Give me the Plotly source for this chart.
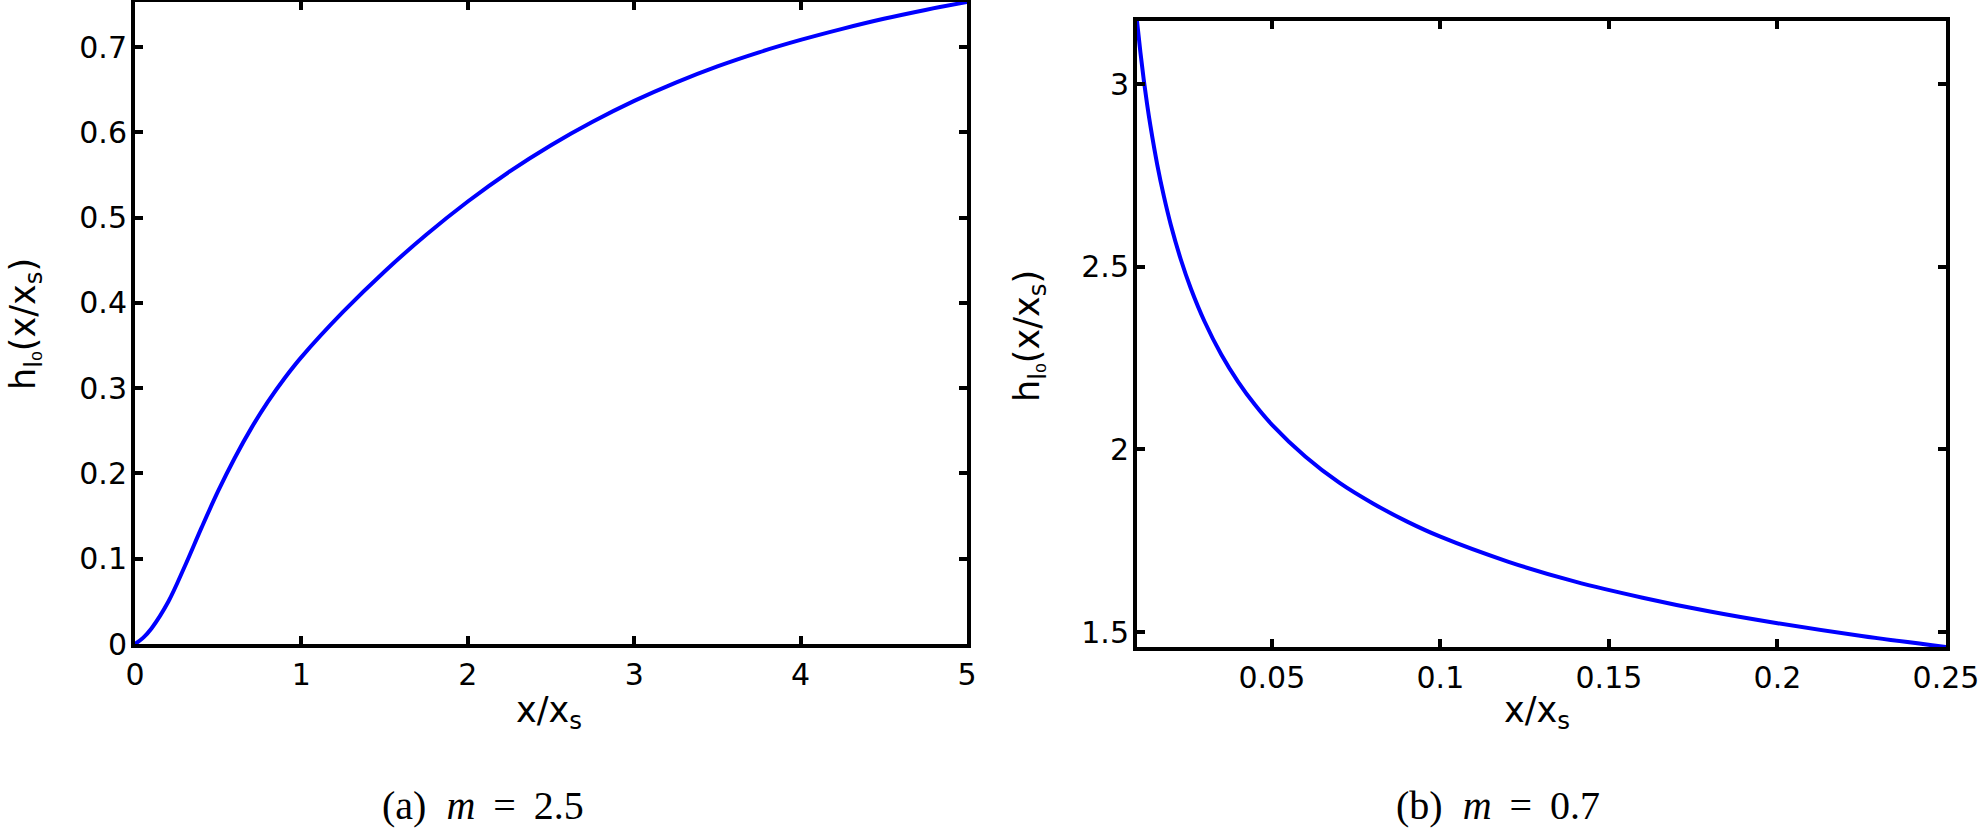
import plotly.graph_objects as go

# ---- data ----
# panel (a): m = 2.5
xa = [0, 0.05, 0.1, 0.2, 0.3, 0.4, 0.5, 0.6, 0.7, 0.8, 0.9, 1.0, 1.25, 1.5, 1.75,
      2.0, 2.25, 2.5, 2.75, 3.0, 3.25, 3.5, 3.75, 4.0, 4.25, 4.5, 4.75, 5.0]
ya = [0, 0.0075, 0.0185, 0.0495, 0.0915, 0.1365, 0.1795, 0.2185, 0.2535, 0.2845,
      0.312, 0.3365, 0.3895, 0.437, 0.480, 0.519, 0.554, 0.585, 0.6125, 0.637,
      0.6585, 0.6775, 0.694, 0.7085, 0.7215, 0.7333, 0.7437, 0.753]

# panel (b): m = 0.7
xb = [0.01, 0.011, 0.012, 0.013, 0.014, 0.016, 0.018, 0.02, 0.023, 0.026, 0.03,
      0.035, 0.04, 0.045, 0.05, 0.06, 0.07, 0.08, 0.09, 0.1, 0.12, 0.14, 0.16,
      0.18, 0.2, 0.225, 0.25]
yb = [3.173, 3.088, 3.012, 2.945, 2.885, 2.780, 2.692, 2.616, 2.520, 2.440, 2.351,
      2.260, 2.185, 2.122, 2.068, 1.980, 1.909, 1.852, 1.803, 1.761, 1.693, 1.638,
      1.594, 1.556, 1.524, 1.489, 1.459]

xa_ticks = [0, 1, 2, 3, 4, 5]
xa_ticktext = ["0", "1", "2", "3", "4", "5"]
ya_ticks = [0, 0.1, 0.2, 0.3, 0.4, 0.5, 0.6, 0.7]
ya_ticktext = ["0", "0.1", "0.2", "0.3", "0.4", "0.5", "0.6", "0.7"]
xb_ticks = [0.05, 0.1, 0.15, 0.2, 0.25]
xb_ticktext = ["0.05", "0.1", "0.15", "0.2", "0.25"]
yb_ticks = [1.5, 2, 2.5, 3]
yb_ticktext = ["1.5", "2", "2.5", "3"]

caption_a = "(a)\u00a0\u00a0<i>m</i>\u00a0\u2009=\u00a0\u20092.5"
caption_b = "(b)\u00a0\u00a0<i>m</i>\u00a0\u2009=\u00a0\u20090.7"
xlabel = "x/x<sub>s</sub>"
ylabel = "h<sub>l\u2080</sub>(x/x<sub>s</sub>)"

W, H = 1979, 830
BLUE = "#0000FF"
SANS = "DejaVu Sans, Liberation Sans, sans-serif"
TICKFONT = dict(family=SANS, size=30, color="black")
LABELFONT = dict(family=SANS, size=35, color="black")
CAPFONT = dict(family="Liberation Serif, Times New Roman, serif", size=40, color="black")

fig = go.Figure()
fig.add_trace(go.Scatter(x=xa, y=ya, mode="lines", line=dict(color=BLUE, width=4, shape="spline"),
                         xaxis="x", yaxis="y", showlegend=False, hoverinfo="skip"))
fig.add_trace(go.Scatter(x=xb, y=yb, mode="lines", line=dict(color=BLUE, width=4, shape="spline"),
                         xaxis="x2", yaxis="y2", showlegend=False, hoverinfo="skip"))

def ax(domain, rng, tv, tt, anchor, standoff):
    return dict(domain=domain, range=rng, tickmode="array", tickvals=tv, ticktext=tt,
                showline=True, linecolor="black", linewidth=4, mirror="allticks",
                ticks="inside", ticklen=8, tickwidth=4, tickcolor="black",
                showgrid=False, zeroline=False, tickfont=TICKFONT, anchor=anchor,
                ticklabelstandoff=standoff, ticklabeloverflow="allow",
                automargin=False, fixedrange=True)

# pixel boxes of the two plot areas
L1, R1, T1, B1 = 135, 967, 2, 644
L2, R2, T2, B2 = 1137, 1946, 21, 647

fig.update_layout(
    template="none",
    width=W, height=H,
    margin=dict(l=0, r=0, t=0, b=0, pad=0),
    paper_bgcolor="white", plot_bgcolor="white",
    xaxis=ax([L1 / W, R1 / W], [0, 5], xa_ticks, xa_ticktext, "y", 1),
    yaxis=ax([1 - B1 / H, 1 - T1 / H], [0, 0.753], ya_ticks, ya_ticktext, "x", -2),
    xaxis2=ax([L2 / W, R2 / W], [0.01, 0.25], xb_ticks, xb_ticktext, "y2", 1),
    yaxis2=ax([1 - B2 / H, 1 - T2 / H], [1.459, 3.173], yb_ticks, yb_ticktext, "x2", -2),
)

def ann(text, xpx, ypx, font, angle=0):
    fig.add_annotation(text=text, x=xpx / W, y=1 - ypx / H, xref="paper", yref="paper",
                       showarrow=False, font=font, textangle=angle,
                       xanchor="center", yanchor="middle")

ann(xlabel, 549, 712, LABELFONT)
ann(xlabel, 1537, 712, LABELFONT)
ann(ylabel, 25, 324, LABELFONT, -90)
ann(ylabel, 1029, 336, LABELFONT, -90)

ann(caption_a, 483, 805, CAPFONT)
ann(caption_b, 1498, 805, CAPFONT)

fig.write_html("out.html", config={"displayModeBar": False},
               post_script="document.body.style.margin='0px';")
